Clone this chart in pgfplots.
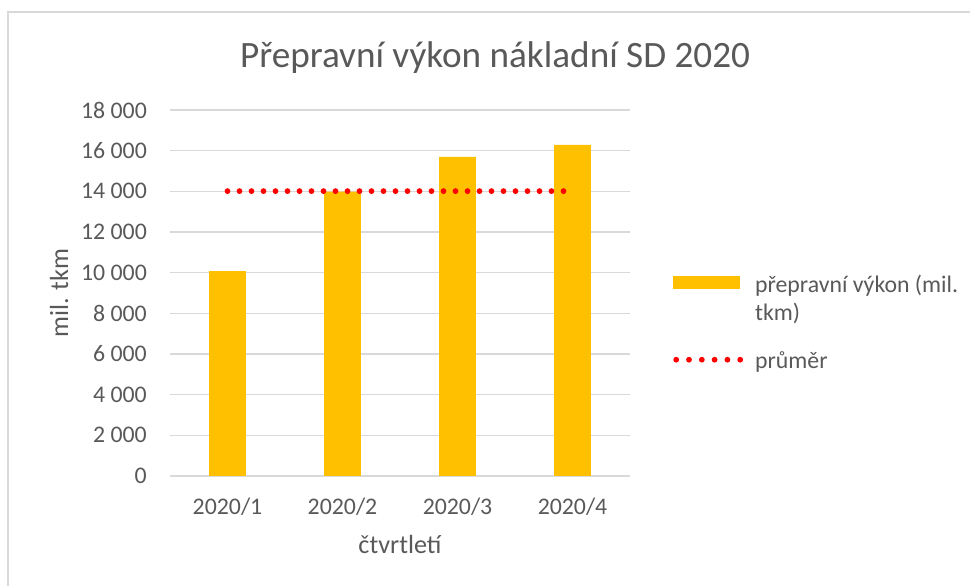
\documentclass[border=0pt]{standalone}
\usepackage{fontspec}
\setmainfont{Carlito}
\usepackage{pgfplots}
\pgfplotsset{compat=1.18}
\definecolor{txt}{HTML}{595959}
\definecolor{gridc}{HTML}{D9D9D9}
\definecolor{barc}{HTML}{FFC000}
\begin{document}
\begin{tikzpicture}
\path[use as bounding box] (0,0) rectangle (970bp,586bp);
\draw[gridc, line width=2bp] (7.7bp,-5bp) -- (7.7bp,574bp) -- (980bp,574bp);
\begin{axis}[
  at={(170bp,110bp)}, anchor=south west,
  scale only axis, width=460bp, height=366bp,
  xmin=-0.5, xmax=3.5, ymin=0, ymax=18000,
  scaled y ticks=false,
  xtick={0,1,2,3}, xticklabels={2020/1,2020/2,2020/3,2020/4},
  ytick={0,2000,4000,6000,8000,10000,12000,14000,16000,18000},
  yticklabels={0,2 000,4 000,6 000,8 000,10 000,12 000,14 000,16 000,18 000},
  ticklabel style={font=\fontsize{23.8bp}{28bp}\selectfont, text=txt, inner sep=0pt},
  xticklabel style={anchor=base, yshift=-39bp},
  yticklabel style={anchor=east, xshift=-23bp},
  major tick length=0pt,
  axis line style={draw=none},
  ymajorgrids, major grid style={gridc, line width=1.5bp},
  clip=false,
  title={Přepravní výkon nákladní SD 2020},
  title style={font=\fontsize{37.2bp}{44bp}\selectfont, text=txt, at={(axis description cs:0.7066,1.099)}, anchor=base, inner sep=0pt},
  xlabel={čtvrtletí},
  xlabel style={font=\fontsize{26.2bp}{31bp}\selectfont, text=txt, at={(axis description cs:0.5,-0.2131)}, anchor=base, inner sep=0pt},
  ylabel={mil. tkm},
  ylabel style={font=\fontsize{26.2bp}{31bp}\selectfont, text=txt, at={(axis description cs:-0.2217,0.5)}, anchor=base, inner sep=0pt},
  legend style={at={(axis description cs:1.0935,0.5547)}, anchor=north west, draw=none, fill=none, inner sep=0pt, column sep=10bp, row sep=26bp, font=\fontsize{23.8bp}{28bp}\selectfont, text=txt, cells={align=left, inner sep=0pt}},
  legend cell align=left,
]
\addplot[ybar, bar width=0.32, fill=barc, draw=none,
  legend image code/.code={\fill[barc] (0bp,10bp) rectangle (67bp,23bp);}]
  coordinates {(0,10080) (1,13980) (2,15690) (3,16280)};
\addlegendentry{přepravní výkon (mil.\\tkm)}
\addplot[red, line width=5.8bp, line cap=round, dash pattern=on 0pt off 12bp,
  legend image code/.code={\draw[red, line width=5.8bp, line cap=round, dash pattern=on 0pt off 12.8bp] (3bp,1.5bp) -- (67bp,1.5bp);}]
  coordinates {(0,14010) (3,14010)};
\addlegendentry{průměr}
\end{axis}
\end{tikzpicture}
\end{document}
